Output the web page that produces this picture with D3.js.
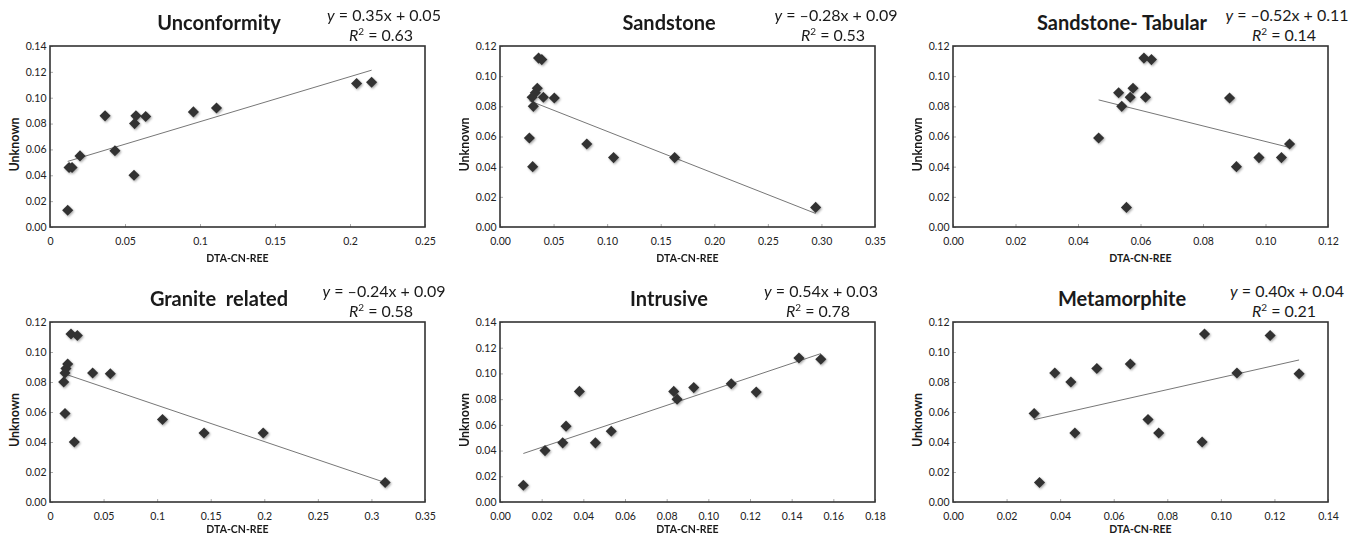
<!DOCTYPE html>
<html>
<head>
<meta charset="utf-8">
<script src="https://cdn.jsdelivr.net/npm/d3@7"></script>
<style>
  body { margin: 0; background: #fff; }
  svg text { font-family: Lato, "Open Sans", sans-serif; fill: #1a1a1a; }
  .tick line { stroke: #aaa; }
  .tick text { font-size: 10.5px; fill: #222; }
</style>
</head>
<body>
<svg id="chart" width="1356" height="536"></svg>
<script>
// panel names
var titles = ["Unconformity", "Sandstone", "Sandstone- Tabular", "Granite  related", "Intrusive", "Metamorphite"];

// the y value ("Unknown") is the same set of samples in every panel
var unknown = [0.013, 0.040, 0.046, 0.059, 0.086, 0.046, 0.055, 0.086, 0.080, 0.089, 0.092, 0.0855, 0.112, 0.111];

// DTA-CN-REE values per panel, same order as unknown
var unconformity = [0.0118, 0.056, 0.0127, 0.0433, 0.0367, 0.0147, 0.020, 0.0573, 0.0564, 0.0956, 0.111, 0.0638, 0.2144, 0.2044];
var sandstone    = [0.2946, 0.0305, 0.106, 0.0274, 0.030, 0.163, 0.081, 0.0405, 0.0311, 0.033, 0.0348, 0.0507, 0.036, 0.039];
var tabular      = [0.0555, 0.0907, 0.0979, 0.0466, 0.0567, 0.1051, 0.1077, 0.0616, 0.054, 0.053, 0.0576, 0.0885, 0.0611, 0.0635];
var granite      = [0.3128, 0.0227, 0.1438, 0.014, 0.0398, 0.199, 0.105, 0.014, 0.0128, 0.0149, 0.0165, 0.0563, 0.0196, 0.0255];
var intrusive    = [0.0112, 0.0216, 0.0301, 0.0317, 0.0381, 0.0458, 0.0534, 0.0834, 0.085, 0.093, 0.111, 0.123, 0.1435, 0.154];
var metamorphite = [0.0323, 0.0930, 0.0455, 0.0303, 0.0380, 0.0768, 0.0728, 0.106, 0.0440, 0.0537, 0.0662, 0.1292, 0.0939, 0.1184];

var series = [unconformity, sandstone, tabular, granite, intrusive, metamorphite];

// trendline labels as printed
var slopes     = ["0.35", "\u20130.28", "\u20130.52", "\u20130.24", "0.54", "0.40"];
var intercepts = ["0.05", "0.09", "0.11", "0.09", "0.03", "0.04"];
var rSquared   = ["0.63", "0.53", "0.14", "0.58", "0.78", "0.21"];

// tick labels
var xTickLabels = [
  ["0", "0.05", "0.1", "0.15", "0.2", "0.25"],
  ["0.00", "0.05", "0.10", "0.15", "0.20", "0.25", "0.30", "0.35"],
  ["0.00", "0.02", "0.04", "0.06", "0.08", "0.10", "0.12"],
  ["0", "0.05", "0.1", "0.15", "0.2", "0.25", "0.3", "0.35"],
  ["0.00", "0.02", "0.04", "0.06", "0.08", "0.10", "0.12", "0.14", "0.16", "0.18"],
  ["0.00", "0.02", "0.04", "0.06", "0.08", "0.10", "0.12", "0.14"]
];
var yTicks14 = ["0.00", "0.02", "0.04", "0.06", "0.08", "0.10", "0.12", "0.14"];
var yTicks12 = ["0.00", "0.02", "0.04", "0.06", "0.08", "0.10", "0.12"];
var yTickLabels = [yTicks14, yTicks12, yTicks12, yTicks12, yTicks14, yTicks12];

var xTitle = "DTA-CN-REE",
    yTitle = "Unknown";

// layout
var colLeft = [50, 500, 953],
    rowTop = [46, 322],
    rowH = [181, 180],
    plotW = 375,
    eqShift = [13, 15, 13, 13, 0, 13];

var svg = d3.select("#chart");

var defs = svg.append("defs");
var f = defs.append("filter").attr("id", "shadow")
  .attr("x", "-50%").attr("y", "-50%").attr("width", "200%").attr("height", "200%");
f.append("feDropShadow")
  .attr("dx", 1).attr("dy", 1.2).attr("stdDeviation", 0.9)
  .attr("flood-color", "#000").attr("flood-opacity", 0.35);

function fit(xs, ys) {
  var mx = d3.mean(xs), my = d3.mean(ys);
  var sxy = 0, sxx = 0;
  for (var i = 0; i < xs.length; i++) {
    sxy += (xs[i] - mx) * (ys[i] - my);
    sxx += (xs[i] - mx) * (xs[i] - mx);
  }
  var b = sxy / sxx;
  return { slope: b, icpt: my - b * mx };
}

var diamond = d3.symbol().type(d3.symbolSquare).size(62);

series.forEach(function(xs, p) {
  var col = p % 3, row = Math.floor(p / 3);
  var left = colLeft[col], top = rowTop[row], h = rowH[row];

  var xVals = xTickLabels[p].map(Number),
      yVals = yTickLabels[p].map(Number);

  var x = d3.scaleLinear().domain([0, d3.max(xVals)]).range([0, plotW]);
  var y = d3.scaleLinear().domain([0, d3.max(yVals)]).range([h, 0]);

  var g = svg.append("g").attr("transform", "translate(" + left + "," + top + ")");

  // axes (inside ticks)
  var xa = g.append("g").attr("transform", "translate(0," + h + ")")
    .call(d3.axisBottom(x).tickValues(xVals)
      .tickFormat(function(d, i) { return xTickLabels[p][i]; })
      .tickSize(-3).tickPadding(10.5));
  xa.select(".domain").remove();

  var ya = g.append("g")
    .call(d3.axisLeft(y).tickValues(yVals)
      .tickFormat(function(d, i) { return yTickLabels[p][i]; })
      .tickSize(-3).tickPadding(3.5));
  ya.select(".domain").remove();
  g.selectAll(".tick text").attr("font-family", null).attr("font-size", null);

  // frame
  g.append("rect")
    .attr("width", plotW).attr("height", h)
    .attr("fill", "none")
    .attr("stroke", "#333")
    .attr("stroke-width", 1.6);

  // trendline
  var t = fit(xs, unknown);
  var x0 = d3.min(xs), x1 = d3.max(xs);
  g.append("line")
    .attr("x1", x(x0)).attr("y1", y(t.slope * x0 + t.icpt))
    .attr("x2", x(x1)).attr("y2", y(t.slope * x1 + t.icpt))
    .attr("stroke", "#777")
    .attr("stroke-width", 1);

  // points
  g.append("g").attr("filter", "url(#shadow)")
    .selectAll("path")
    .data(xs)
    .enter()
    .append("path")
    .attr("d", diamond)
    .attr("transform", function(d, i) {
      return "translate(" + x(d) + "," + y(unknown[i]) + ") rotate(45)";
    })
    .attr("fill", "#333");

  // title
  g.append("text")
    .attr("x", plotW / 2 - 18.5)
    .attr("y", -16)
    .attr("text-anchor", "middle")
    .attr("font-size", 20)
    .attr("font-weight", "bold")
    .style("white-space", "pre")
    .text(titles[p]);

  // equation
  var ex = plotW + eqShift[p] - 54;
  var l1 = g.append("text")
    .attr("x", ex).attr("y", -25)
    .attr("text-anchor", "middle")
    .attr("font-size", 16);
  l1.append("tspan").attr("font-style", "italic").text("y");
  l1.append("tspan").text(" = " + slopes[p] + "x + " + intercepts[p]);

  var l2 = g.append("text")
    .attr("x", ex - 3).attr("y", -5.5)
    .attr("text-anchor", "middle")
    .attr("font-size", 16);
  l2.append("tspan").attr("font-style", "italic").text("R");
  l2.append("tspan").attr("font-size", 10).attr("dy", -6).text("2");
  l2.append("tspan").attr("dy", 6).text(" = " + rSquared[p]);

  // axis titles
  g.append("text")
    .attr("x", plotW / 2)
    .attr("y", h + (row == 0 ? 35 : 31))
    .attr("text-anchor", "middle")
    .attr("font-size", 10.5)
    .attr("font-weight", "bold")
    .text(xTitle);

  g.append("text")
    .attr("transform", "translate(" + (-31) + "," + (h / 2 + 8) + ") rotate(-90)")
    .attr("text-anchor", "middle")
    .attr("font-size", 12.5)
    .attr("font-weight", "bold")
    .text(yTitle);
});
</script>
</body>
</html>
